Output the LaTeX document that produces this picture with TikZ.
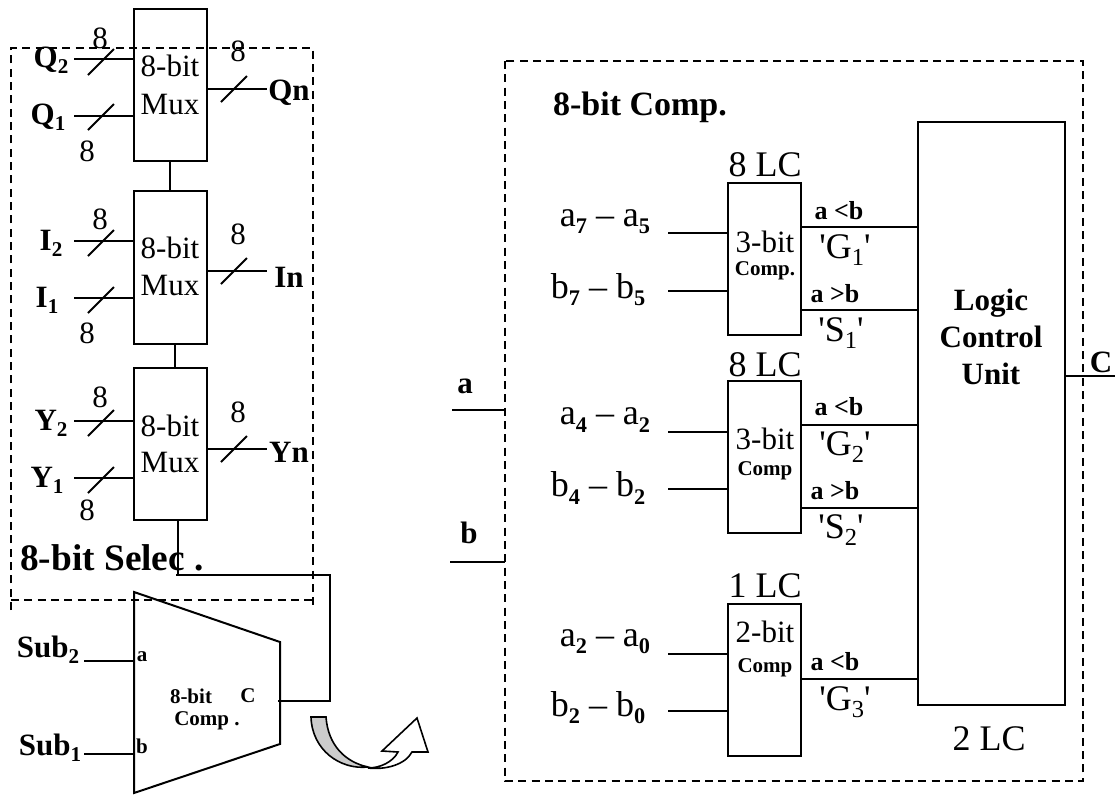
\documentclass[tikz,border=0pt]{standalone}
\usepackage{fontspec}
\setmainfont{Liberation Serif}
\newfontfamily\plainq{Liberation Serif}
\newcommand\sq{{\plainq '}}
\newcommand\lowb[1]{\raisebox{-0.2em}{\scalebox{0.62}{\textbf{#1}}}}
\newcommand\lowc[1]{\raisebox{-0.2em}{\scalebox{0.68}{\textbf{#1}}}}
\newcommand\lowr[1]{\raisebox{-0.2em}{\scalebox{0.68}{#1}}}
\newcommand\inwire[4]{\coordinate (#1) at (#2,#3); \draw[wire] (#1) -- (#1 -| #4.west);}
\newcommand\outwire[4]{\coordinate (#1) at (#2,#3); \draw[wire] (#4.east |- #1) -- (#1);}
\newcommand\slashmark[2]{\draw[wire] (#1-13,#2+13) -- (#1+13,#2-13);}
\tikzset{
 wire/.style={line width=1.35pt},
 blk/.style={draw,line width=1.5pt,inner sep=0pt,outer sep=0pt,minimum width=54.75pt},
 dbox/.style={line width=1.1pt,dash pattern=on 6pt off 4pt},
 lab/.style={inner sep=0pt,outer sep=0pt},
 rn/.style={lab,font=\fontsize{23.25}{25}\selectfont},
 rl/.style={lab,font=\fontsize{27}{29}\selectfont},
 bn/.style={lab,font=\fontsize{23.25}{25}\selectfont\bfseries},
 bl/.style={lab,font=\fontsize{28}{30}\selectfont\bfseries},
 bs/.style={lab,font=\fontsize{15.75}{17}\selectfont\bfseries},
 bm/.style={lab,font=\fontsize{19.5}{21}\selectfont\bfseries},
}
\begin{document}
\begin{tikzpicture}[x=0.75pt,y=-0.75pt]
\useasboundingbox (0,0) rectangle (1115,794);
% dashed frames
\draw[dbox] (11,610) -- (11,48) -- (313,48) -- (313,606);
\draw[dbox] (11,600) -- (316,600);
\draw[dbox] (505,61) rectangle (1083,781);
% muxes
\node[blk,minimum height=114pt] (m1) at (170.5,85) {};
\node[blk,minimum height=114.75pt] (m2) at (170.5,267) {};
\node[blk,minimum height=114pt] (m3) at (170.5,444) {};
\draw[wire] (170,161) -- (170,190);
\draw[wire] (175,343) -- (175,368);
\foreach \n/\y in {a/66,b/248,c/426}{\node[rn] (mt\n) at (170,\y) {8-bit};}
\foreach \n/\y in {a/104,b/285,c/462}{\node[rn] (mm\n) at (170,\y) {Mux};}
% mux wires
\inwire{wq2}{74}{59}{m1}\inwire{wq1}{74}{116}{m1}
\inwire{wi2}{74}{241}{m2}\inwire{wi1}{74}{298}{m2}
\inwire{wy2}{74}{421}{m3}\inwire{wy1}{74}{478}{m3}
\outwire{wqn}{267}{89}{m1}\outwire{win}{267}{271}{m2}\outwire{wyn}{267}{449}{m3}
\slashmark{101}{62}\slashmark{101}{117}\slashmark{101}{243}\slashmark{101}{300}\slashmark{101}{423}\slashmark{101}{480}
\slashmark{234}{89}\slashmark{234}{271}\slashmark{234}{449}
\foreach \n/\x/\y in {a/100/38,b/87/151,c/238/51,d/100/219,e/87/333,f/238/234,g/100/397,h/87/510,i/238/412}{\node[rn] (e\n) at (\x,\y) {8};}
\node[bn] (lq2) at (51,60) {Q\lowc{2}};
\node[bn] (lq1) at (48,117) {Q\lowc{1}};
\node[bn] (lqn) at (289,93) {Qn};
\node[bn] (li2) at (51,243) {I\lowc{2}};
\node[bn] (li1) at (47,300) {I\lowc{1}};
\node[bn] (lin) at (289,277) {In};
\node[bn] (ly2) at (51,423) {Y\lowc{2}};
\node[bn] (ly1) at (47,480) {Y\lowc{1}};
\node[bn] (lyn) at (289,452) {Yn};
\node[bl] (lsel) at (112,558) {8-bit Selec .};
% trapezoid comparator
\coordinate (ta) at (134,592); \coordinate (tb) at (280,642); \coordinate (tc) at (280,744); \coordinate (td) at (134,793);
\draw[blk] (ta) -- (tb) -- (tc) -- (td) -- cycle;
\coordinate (s2) at (84,661); \coordinate (s1) at (84,754);
\draw[wire] (s2) -- (s2 -| ta);
\draw[wire] (s1) -- (s1 -| ta);
\node[bn] (ls2) at (48,650) {Sub\lowc{2}};
\node[bn] (ls1) at (50,748) {Sub\lowc{1}};
\node[bs] (ta1) at (142,657) {a};
\node[bs] (tb1) at (142,746) {b};
\node[bs] (tc1) at (191,696) {8-bit};
\node[bs] (tc2) at (248,696) {C};
\node[bs] (tc3) at (207,721) {Comp .};
% feedback
\coordinate (fc) at (278,701);
\draw[wire] (m3.south -| 178,0) -- (178,575);
\draw[wire] (176,575) -- (330,575) -- (330,701) -- (fc);
% curved arrow
\draw[line width=1.2pt,fill=black!20] (311,717) -- (326,717) .. controls (328,745) and (345,762) .. (368,767) .. controls (340,770) and (312,750) .. (311,717) -- cycle;
\draw[line width=1.2pt,fill=white] (368,768) .. controls (380,768) and (393,762) .. (398,752) -- (382,751) -- (417,718) -- (428,752) -- (412,752) .. controls (405,765) and (385,770) .. (368,768) -- cycle;
% right part
\coordinate (wa) at (452,410); \coordinate (wb) at (450,562);
\draw[wire] (wa) -- (505,410);
\draw[wire] (wb) -- (505,562);
\node[bn] (la) at (465,386) {a};
\node[bn] (lb) at (469,533) {b};
\node[bn] (l8c) at (640,107) {\fontsize{25.5}{28}\selectfont 8-bit Comp.};
\node[blk,minimum width=110.25pt,minimum height=437.25pt] (lcu) at (991.5,413.5) {};
\node[bn,align=center] (ltxt) at (991,337) {Logic\\[3pt]Control\\[3pt]Unit};
\coordinate (wc) at (1115,376);
\draw[line width=2pt] (lcu.east |- wc) -- (wc);
\node[bn] (lc) at (1101,362) {C};
\node[blk,minimum height=114pt] (c1) at (764.5,259) {};
\node[blk,minimum height=114pt] (c2) at (764.5,457) {};
\node[blk,minimum height=114pt] (c3) at (764.5,680) {};
\node[rl] (lc1) at (765,165) {8 LC};
\node[rl] (lc2) at (765,365) {8 LC};
\node[rl] (lc3) at (765,586) {1 LC};
\node[rl] (lc4) at (989,739) {2 LC};
\node[rn] (b1a) at (765,242) {3-bit};
\node[bs] (b1b) at (765,271) {Comp.};
\node[rn] (b2a) at (765,439) {3-bit};
\node[bs] (b2b) at (765,471) {Comp};
\node[rn] (b3a) at (765,632) {2-bit};
\node[bs] (b3b) at (765,668) {Comp};
\inwire{ia1}{668}{233}{c1}\inwire{ib1}{668}{291}{c1}
\inwire{ia2}{668}{432}{c2}\inwire{ib2}{668}{489}{c2}
\inwire{ia3}{668}{654}{c3}\inwire{ib3}{668}{711}{c3}
\foreach \n/\b/\y in {o1/c1/227,o2/c1/310,o3/c2/425,o4/c2/508,o5/c3/679}{
 \coordinate (\n) at (lcu.west |- 0,\y);
 \draw[wire] (\b.east |- \n) -- (\n);}
\node[bm] (g1) at (839,211) {a <b};
\node[bm] (g2) at (835,294) {a >b};
\node[bm] (g3) at (839,407) {a <b};
\node[bm] (g4) at (835,491) {a >b};
\node[bm] (g5) at (835,662) {a <b};
\node[rl] (h1) at (845,250) {\sq G\lowr{1}\sq};
\node[rl] (h2) at (841,333) {\sq S\lowr{1}\sq};
\node[rl] (h3) at (845,447) {\sq G\lowr{2}\sq};
\node[rl] (h4) at (841,530) {\sq S\lowr{2}\sq};
\node[rl] (h5) at (845,702) {\sq G\lowr{3}\sq};
\node[rl] (k1) at (605,222) {a\lowb{7} -- a\lowb{5}};
\node[rl] (k2) at (598,290) {b\lowb{7} -- b\lowb{5}};
\node[rl] (k3) at (605,420) {a\lowb{4} -- a\lowb{2}};
\node[rl] (k4) at (598,488) {b\lowb{4} -- b\lowb{2}};
\node[rl] (k5) at (605,642) {a\lowb{2} -- a\lowb{0}};
\node[rl] (k6) at (598,708) {b\lowb{2} -- b\lowb{0}};
\end{tikzpicture}
\end{document}
